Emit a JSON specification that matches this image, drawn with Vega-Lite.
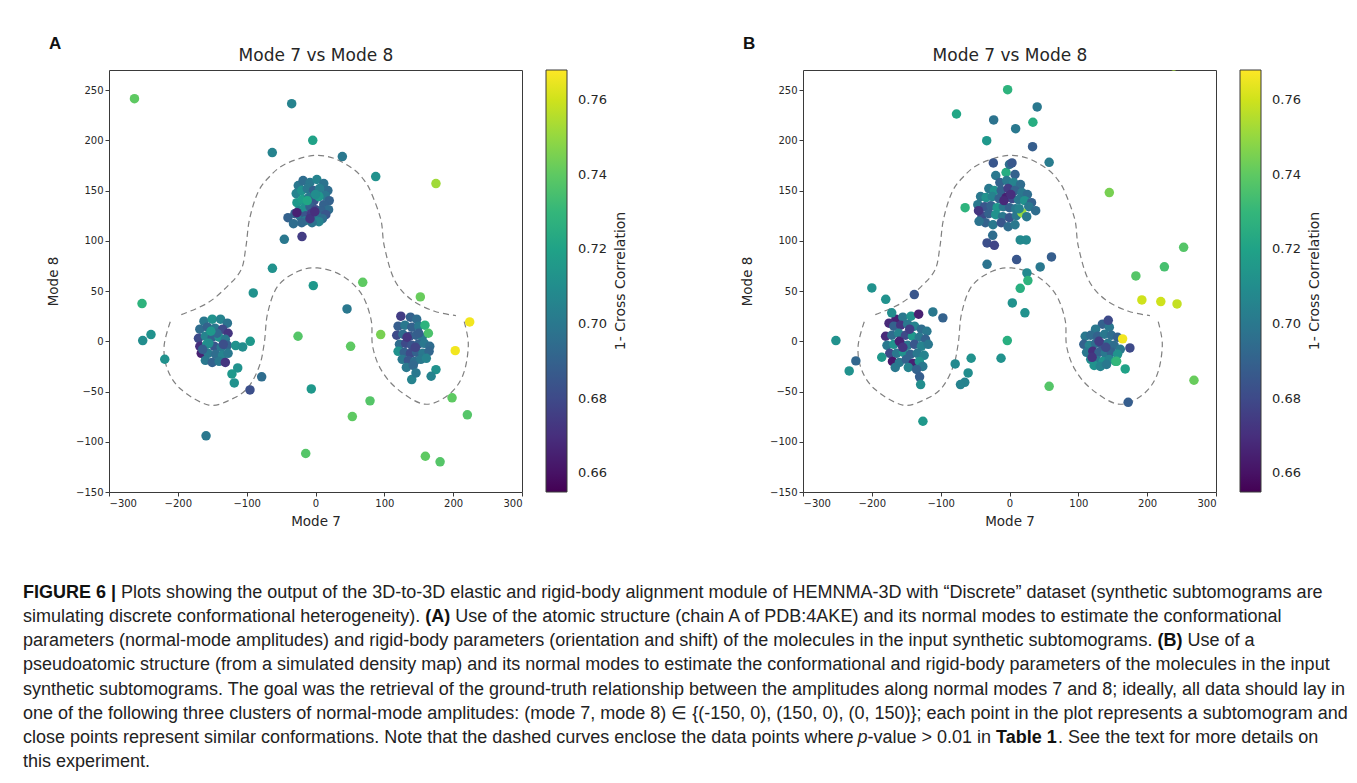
{
  "$schema": "https://vega.github.io/schema/vega-lite/v6.json",
  "background": "white",
  "padding": {"left": 22, "top": 34, "right": 6, "bottom": 4},
  "spacing": 53,
  "datasets": {
    "contour": [
      {"piece": "outer", "k": 1, "mode7": -195, "mode8": 26.5},
      {"piece": "outer", "k": 2, "mode7": -157, "mode8": 38},
      {"piece": "outer", "k": 3, "mode7": -128, "mode8": 54.7},
      {"piece": "outer", "k": 4, "mode7": -108, "mode8": 71.3},
      {"piece": "outer", "k": 5, "mode7": -101, "mode8": 94.5},
      {"piece": "outer", "k": 6, "mode7": -96, "mode8": 121},
      {"piece": "outer", "k": 7, "mode7": -84, "mode8": 147.7},
      {"piece": "outer", "k": 8, "mode7": -68, "mode8": 163},
      {"piece": "outer", "k": 9, "mode7": -45, "mode8": 176},
      {"piece": "outer", "k": 10, "mode7": -5, "mode8": 184.8},
      {"piece": "outer", "k": 11, "mode7": 27, "mode8": 182},
      {"piece": "outer", "k": 12, "mode7": 56, "mode8": 170.8},
      {"piece": "outer", "k": 13, "mode7": 71, "mode8": 160},
      {"piece": "outer", "k": 14, "mode7": 81, "mode8": 147.7},
      {"piece": "outer", "k": 15, "mode7": 95, "mode8": 121},
      {"piece": "outer", "k": 16, "mode7": 100, "mode8": 94.5},
      {"piece": "outer", "k": 17, "mode7": 114.5, "mode8": 61.4},
      {"piece": "outer", "k": 18, "mode7": 139, "mode8": 41.5},
      {"piece": "outer", "k": 19, "mode7": 173, "mode8": 29.9},
      {"piece": "outer", "k": 20, "mode7": 204, "mode8": 25.6},
      {"piece": "inner", "k": 1, "mode7": -211, "mode8": 19.5},
      {"piece": "inner", "k": 2, "mode7": -220, "mode8": -5},
      {"piece": "inner", "k": 3, "mode7": -215, "mode8": -28},
      {"piece": "inner", "k": 4, "mode7": -195.5, "mode8": -47.8},
      {"piece": "inner", "k": 5, "mode7": -155, "mode8": -63.5},
      {"piece": "inner", "k": 6, "mode7": -122.8, "mode8": -57.9},
      {"piece": "inner", "k": 7, "mode7": -98.5, "mode8": -46.4},
      {"piece": "inner", "k": 8, "mode7": -81.7, "mode8": -24.9},
      {"piece": "inner", "k": 9, "mode7": -74.4, "mode8": -1.6},
      {"piece": "inner", "k": 10, "mode7": -69.5, "mode8": 28},
      {"piece": "inner", "k": 11, "mode7": -55, "mode8": 54.7},
      {"piece": "inner", "k": 12, "mode7": -26, "mode8": 69.4},
      {"piece": "inner", "k": 13, "mode7": 3, "mode8": 73},
      {"piece": "inner", "k": 14, "mode7": 37, "mode8": 66},
      {"piece": "inner", "k": 15, "mode7": 66, "mode8": 48},
      {"piece": "inner", "k": 16, "mode7": 80.7, "mode8": 21.6},
      {"piece": "inner", "k": 17, "mode7": 83, "mode8": -5},
      {"piece": "inner", "k": 18, "mode7": 95, "mode8": -28},
      {"piece": "inner", "k": 19, "mode7": 119.5, "mode8": -47.8},
      {"piece": "inner", "k": 20, "mode7": 158, "mode8": -62.5},
      {"piece": "inner", "k": 21, "mode7": 192, "mode8": -54},
      {"piece": "inner", "k": 22, "mode7": 214, "mode8": -34},
      {"piece": "inner", "k": 23, "mode7": 222, "mode8": -4},
      {"piece": "inner", "k": 24, "mode7": 216, "mode8": 19.6}
    ],
    "pointsA": [
      {"mode7": -25, "mode8": 155, "cc": 0.700}, {"mode7": -18, "mode8": 160, "cc": 0.695}, {"mode7": -8, "mode8": 158, "cc": 0.700},
      {"mode7": 2, "mode8": 161, "cc": 0.705}, {"mode7": 12, "mode8": 157, "cc": 0.698}, {"mode7": 18, "mode8": 150, "cc": 0.695},
      {"mode7": -28, "mode8": 147, "cc": 0.705}, {"mode7": -20, "mode8": 150, "cc": 0.712}, {"mode7": -12, "mode8": 152, "cc": 0.700},
      {"mode7": -3, "mode8": 150, "cc": 0.690}, {"mode7": 6, "mode8": 152, "cc": 0.703}, {"mode7": 14, "mode8": 145, "cc": 0.700},
      {"mode7": 20, "mode8": 140, "cc": 0.690}, {"mode7": -27, "mode8": 138, "cc": 0.715}, {"mode7": -19, "mode8": 141, "cc": 0.718},
      {"mode7": -10, "mode8": 143, "cc": 0.700}, {"mode7": -2, "mode8": 140, "cc": 0.685}, {"mode7": 5, "mode8": 144, "cc": 0.715},
      {"mode7": 12, "mode8": 136, "cc": 0.690}, {"mode7": 19, "mode8": 131, "cc": 0.695}, {"mode7": -24, "mode8": 130, "cc": 0.705},
      {"mode7": -16, "mode8": 133, "cc": 0.712}, {"mode7": -8, "mode8": 134, "cc": 0.690}, {"mode7": 0, "mode8": 131, "cc": 0.680},
      {"mode7": 8, "mode8": 130, "cc": 0.690}, {"mode7": 15, "mode8": 126, "cc": 0.685}, {"mode7": -30, "mode8": 127, "cc": 0.690},
      {"mode7": -22, "mode8": 124, "cc": 0.700}, {"mode7": -14, "mode8": 125, "cc": 0.685}, {"mode7": -6, "mode8": 127, "cc": 0.675},
      {"mode7": 2, "mode8": 124, "cc": 0.700}, {"mode7": 10, "mode8": 122, "cc": 0.695}, {"mode7": -15, "mode8": 120, "cc": 0.700},
      {"mode7": 5, "mode8": 119, "cc": 0.705}, {"mode7": -5, "mode8": 118, "cc": 0.698}, {"mode7": -20, "mode8": 118, "cc": 0.693},
      {"mode7": -12, "mode8": 140, "cc": 0.722}, {"mode7": 0, "mode8": 146, "cc": 0.710}, {"mode7": -27, "mode8": 128, "cc": 0.665},
      {"mode7": -8, "mode8": 122, "cc": 0.672}, {"mode7": -1, "mode8": 129, "cc": 0.670}, {"mode7": -40, "mode8": 123, "cc": 0.690},
      {"mode7": -32, "mode8": 117, "cc": 0.695},
      {"mode7": -162, "mode8": 20, "cc": 0.700}, {"mode7": -150, "mode8": 22, "cc": 0.712}, {"mode7": -138, "mode8": 22, "cc": 0.705},
      {"mode7": -128, "mode8": 18, "cc": 0.698}, {"mode7": -168, "mode8": 12, "cc": 0.695}, {"mode7": -157, "mode8": 14, "cc": 0.690},
      {"mode7": -146, "mode8": 13, "cc": 0.700}, {"mode7": -135, "mode8": 12, "cc": 0.680}, {"mode7": -127, "mode8": 8, "cc": 0.672},
      {"mode7": -170, "mode8": 3, "cc": 0.680}, {"mode7": -160, "mode8": 5, "cc": 0.705}, {"mode7": -150, "mode8": 4, "cc": 0.690},
      {"mode7": -140, "mode8": 4, "cc": 0.712}, {"mode7": -131, "mode8": 2, "cc": 0.700}, {"mode7": -168, "mode8": -5, "cc": 0.670},
      {"mode7": -158, "mode8": -3, "cc": 0.715}, {"mode7": -147, "mode8": -5, "cc": 0.685}, {"mode7": -137, "mode8": -6, "cc": 0.700},
      {"mode7": -128, "mode8": -4, "cc": 0.690}, {"mode7": -166, "mode8": -12, "cc": 0.665}, {"mode7": -156, "mode8": -12, "cc": 0.700},
      {"mode7": -145, "mode8": -13, "cc": 0.695}, {"mode7": -135, "mode8": -14, "cc": 0.705}, {"mode7": -127, "mode8": -12, "cc": 0.700},
      {"mode7": -160, "mode8": -19, "cc": 0.700}, {"mode7": -150, "mode8": -21, "cc": 0.690}, {"mode7": -140, "mode8": -20, "cc": 0.700},
      {"mode7": -131, "mode8": -21, "cc": 0.672}, {"mode7": -155, "mode8": -2, "cc": 0.710}, {"mode7": -143, "mode8": 8, "cc": 0.693},
      {"mode7": -164, "mode8": -8, "cc": 0.688}, {"mode7": -134, "mode8": -3, "cc": 0.682}, {"mode7": -152, "mode8": 10, "cc": 0.715},
      {"mode7": -116, "mode8": -4.3, "cc": 0.712}, {"mode7": -105.8, "mode8": -5.6, "cc": 0.710}, {"mode7": -94.8, "mode8": 0, "cc": 0.715},
      {"mode7": -113, "mode8": -26.5, "cc": 0.712}, {"mode7": -121.4, "mode8": -32.5, "cc": 0.715}, {"mode7": -118, "mode8": -41.4, "cc": 0.712},
      {"mode7": 124, "mode8": 25, "cc": 0.675}, {"mode7": 138, "mode8": 24, "cc": 0.690}, {"mode7": 147, "mode8": 22, "cc": 0.695},
      {"mode7": 120, "mode8": 15, "cc": 0.688}, {"mode7": 130, "mode8": 16, "cc": 0.700}, {"mode7": 140, "mode8": 14, "cc": 0.690},
      {"mode7": 150, "mode8": 15, "cc": 0.700}, {"mode7": 118, "mode8": 6, "cc": 0.680}, {"mode7": 127, "mode8": 7, "cc": 0.695},
      {"mode7": 137, "mode8": 5, "cc": 0.685}, {"mode7": 146, "mode8": 6, "cc": 0.690}, {"mode7": 155, "mode8": 4, "cc": 0.700},
      {"mode7": 122, "mode8": -3, "cc": 0.695}, {"mode7": 131, "mode8": -2, "cc": 0.680}, {"mode7": 140, "mode8": -4, "cc": 0.685},
      {"mode7": 149, "mode8": -3, "cc": 0.690}, {"mode7": 158, "mode8": -2, "cc": 0.700}, {"mode7": 166, "mode8": -5, "cc": 0.695},
      {"mode7": 120, "mode8": -10, "cc": 0.712}, {"mode7": 129, "mode8": -11, "cc": 0.690}, {"mode7": 138, "mode8": -12, "cc": 0.680},
      {"mode7": 147, "mode8": -11, "cc": 0.690}, {"mode7": 156, "mode8": -12, "cc": 0.700}, {"mode7": 165, "mode8": -10, "cc": 0.692},
      {"mode7": 126, "mode8": -18, "cc": 0.700}, {"mode7": 135, "mode8": -19, "cc": 0.685}, {"mode7": 144, "mode8": -20, "cc": 0.695},
      {"mode7": 153, "mode8": -18, "cc": 0.700}, {"mode7": 161, "mode8": -17, "cc": 0.705}, {"mode7": 133, "mode8": 4, "cc": 0.672},
      {"mode7": 145, "mode8": -6, "cc": 0.678}, {"mode7": 150, "mode8": 8, "cc": 0.688}, {"mode7": 132, "mode8": -26, "cc": 0.700},
      {"mode7": 142, "mode8": -24, "cc": 0.693}, {"mode7": 159, "mode8": 16, "cc": 0.728}, {"mode7": 164, "mode8": 8, "cc": 0.736},
      {"mode7": 175, "mode8": -28.2, "cc": 0.712}, {"mode7": 168, "mode8": -34.8, "cc": 0.705}, {"mode7": 139.8, "mode8": -38.1, "cc": 0.705},
      {"mode7": 146, "mode8": -31.5, "cc": 0.700},
      {"mode7": -263, "mode8": 241.5, "cc": 0.740}, {"mode7": -34.6, "mode8": 236.5, "cc": 0.705}, {"mode7": -4, "mode8": 200, "cc": 0.720},
      {"mode7": -62.8, "mode8": 187.8, "cc": 0.705}, {"mode7": 39, "mode8": 183.8, "cc": 0.700}, {"mode7": 87.5, "mode8": 163.9, "cc": 0.712},
      {"mode7": 175, "mode8": 157, "cc": 0.752}, {"mode7": -45.3, "mode8": 101.5, "cc": 0.700}, {"mode7": -19.6, "mode8": 104.2, "cc": 0.675},
      {"mode7": -62.6, "mode8": 72.6, "cc": 0.712}, {"mode7": -3.2, "mode8": 55.4, "cc": 0.715}, {"mode7": 68.6, "mode8": 58.7, "cc": 0.740},
      {"mode7": -90.4, "mode8": 48.1, "cc": 0.712}, {"mode7": -252, "mode8": 37.5, "cc": 0.728}, {"mode7": 152.3, "mode8": 44.2, "cc": 0.742},
      {"mode7": 45.8, "mode8": 32.2, "cc": 0.700}, {"mode7": 224, "mode8": 19.3, "cc": 0.766}, {"mode7": -239, "mode8": 6.7, "cc": 0.712},
      {"mode7": -251, "mode8": 0.7, "cc": 0.710}, {"mode7": -25.4, "mode8": 5, "cc": 0.738}, {"mode7": 94.7, "mode8": 6.7, "cc": 0.745},
      {"mode7": 51, "mode8": -5, "cc": 0.740}, {"mode7": 203, "mode8": -9.3, "cc": 0.766}, {"mode7": -219, "mode8": -17.9, "cc": 0.712},
      {"mode7": -78.2, "mode8": -35.4, "cc": 0.695}, {"mode7": -95.2, "mode8": -48.4, "cc": 0.682}, {"mode7": -6.1, "mode8": -47.4, "cc": 0.715},
      {"mode7": 198.4, "mode8": -56.3, "cc": 0.740}, {"mode7": 79.2, "mode8": -59.3, "cc": 0.738}, {"mode7": 53.5, "mode8": -74.9, "cc": 0.740},
      {"mode7": 220.6, "mode8": -73.2, "cc": 0.738}, {"mode7": -159, "mode8": -94.1, "cc": 0.700}, {"mode7": -14.2, "mode8": -111.7, "cc": 0.738},
      {"mode7": 159.6, "mode8": -114.4, "cc": 0.740}, {"mode7": 181, "mode8": -120, "cc": 0.738}
    ],
    "pointsB": [
      {"mode7": -20, "mode8": 165, "cc": 0.700}, {"mode7": -5, "mode8": 168, "cc": 0.725}, {"mode7": 8, "mode8": 166, "cc": 0.690},
      {"mode7": 0, "mode8": 176, "cc": 0.695}, {"mode7": -14, "mode8": 158, "cc": 0.690}, {"mode7": -4, "mode8": 160, "cc": 0.700},
      {"mode7": 6, "mode8": 158, "cc": 0.705}, {"mode7": 16, "mode8": 156, "cc": 0.695}, {"mode7": -30, "mode8": 152, "cc": 0.700},
      {"mode7": -22, "mode8": 150, "cc": 0.712}, {"mode7": -12, "mode8": 150, "cc": 0.690}, {"mode7": -2, "mode8": 152, "cc": 0.675},
      {"mode7": 8, "mode8": 150, "cc": 0.690}, {"mode7": 18, "mode8": 148, "cc": 0.700}, {"mode7": 26, "mode8": 146, "cc": 0.695},
      {"mode7": -42, "mode8": 144, "cc": 0.700}, {"mode7": -34, "mode8": 143, "cc": 0.712}, {"mode7": -25, "mode8": 144, "cc": 0.705},
      {"mode7": -15, "mode8": 142, "cc": 0.690}, {"mode7": -5, "mode8": 143, "cc": 0.665}, {"mode7": 4, "mode8": 142, "cc": 0.680},
      {"mode7": 13, "mode8": 141, "cc": 0.700}, {"mode7": 22, "mode8": 140, "cc": 0.712}, {"mode7": 32, "mode8": 138, "cc": 0.690},
      {"mode7": -46, "mode8": 136, "cc": 0.700}, {"mode7": -36, "mode8": 134, "cc": 0.685}, {"mode7": -27, "mode8": 135, "cc": 0.690},
      {"mode7": -18, "mode8": 133, "cc": 0.715}, {"mode7": -9, "mode8": 134, "cc": 0.700}, {"mode7": 0, "mode8": 133, "cc": 0.690},
      {"mode7": 9, "mode8": 132, "cc": 0.700}, {"mode7": 28, "mode8": 134, "cc": 0.700}, {"mode7": 38, "mode8": 130, "cc": 0.695},
      {"mode7": -40, "mode8": 125, "cc": 0.680}, {"mode7": -30, "mode8": 127, "cc": 0.690}, {"mode7": -20, "mode8": 126, "cc": 0.712},
      {"mode7": -10, "mode8": 124, "cc": 0.700}, {"mode7": 0, "mode8": 123, "cc": 0.685}, {"mode7": 10, "mode8": 125, "cc": 0.700},
      {"mode7": 18, "mode8": 128, "cc": 0.750}, {"mode7": 25, "mode8": 124, "cc": 0.700}, {"mode7": -35, "mode8": 118, "cc": 0.690},
      {"mode7": -24, "mode8": 116, "cc": 0.700}, {"mode7": -12, "mode8": 118, "cc": 0.685}, {"mode7": -2, "mode8": 114, "cc": 0.695},
      {"mode7": 8, "mode8": 116, "cc": 0.700}, {"mode7": -45, "mode8": 130, "cc": 0.672}, {"mode7": -8, "mode8": 140, "cc": 0.668},
      {"mode7": 2, "mode8": 146, "cc": 0.670}, {"mode7": 14, "mode8": 132, "cc": 0.705},
      {"mode7": -165, "mode8": 22, "cc": 0.665}, {"mode7": -155, "mode8": 24, "cc": 0.700}, {"mode7": -143, "mode8": 25, "cc": 0.712},
      {"mode7": -132, "mode8": 27, "cc": 0.665}, {"mode7": -175, "mode8": 18, "cc": 0.668}, {"mode7": -168, "mode8": 15, "cc": 0.690},
      {"mode7": -158, "mode8": 16, "cc": 0.672}, {"mode7": -148, "mode8": 17, "cc": 0.700}, {"mode7": -138, "mode8": 15, "cc": 0.705},
      {"mode7": -128, "mode8": 12, "cc": 0.695}, {"mode7": -120, "mode8": 10, "cc": 0.700}, {"mode7": -180, "mode8": 5, "cc": 0.668},
      {"mode7": -171, "mode8": 6, "cc": 0.695}, {"mode7": -161, "mode8": 8, "cc": 0.705}, {"mode7": -151, "mode8": 6, "cc": 0.680},
      {"mode7": -141, "mode8": 5, "cc": 0.715}, {"mode7": -131, "mode8": 4, "cc": 0.700}, {"mode7": -122, "mode8": 2, "cc": 0.690},
      {"mode7": -178, "mode8": -4, "cc": 0.700}, {"mode7": -168, "mode8": -3, "cc": 0.712}, {"mode7": -158, "mode8": -2, "cc": 0.690},
      {"mode7": -148, "mode8": -4, "cc": 0.700}, {"mode7": -138, "mode8": -3, "cc": 0.685}, {"mode7": -128, "mode8": -5, "cc": 0.705},
      {"mode7": -118, "mode8": -3, "cc": 0.700}, {"mode7": -174, "mode8": -12, "cc": 0.680}, {"mode7": -164, "mode8": -12, "cc": 0.700},
      {"mode7": -154, "mode8": -11, "cc": 0.712}, {"mode7": -144, "mode8": -13, "cc": 0.690}, {"mode7": -134, "mode8": -12, "cc": 0.700},
      {"mode7": -124, "mode8": -14, "cc": 0.705}, {"mode7": -170, "mode8": -20, "cc": 0.662}, {"mode7": -160, "mode8": -21, "cc": 0.700},
      {"mode7": -150, "mode8": -18, "cc": 0.690}, {"mode7": -140, "mode8": -22, "cc": 0.665}, {"mode7": -131, "mode8": -20, "cc": 0.712},
      {"mode7": -126, "mode8": -25, "cc": 0.700}, {"mode7": -166, "mode8": -26, "cc": 0.700}, {"mode7": -147, "mode8": -26, "cc": 0.705},
      {"mode7": -135, "mode8": -28, "cc": 0.690}, {"mode7": -160, "mode8": 0, "cc": 0.665}, {"mode7": -145, "mode8": 12, "cc": 0.675},
      {"mode7": -155, "mode8": -6, "cc": 0.672},
      {"mode7": 135, "mode8": 17, "cc": 0.690}, {"mode7": 145, "mode8": 14, "cc": 0.700}, {"mode7": 125, "mode8": 12, "cc": 0.700},
      {"mode7": 110, "mode8": 5, "cc": 0.700}, {"mode7": 118, "mode8": 6, "cc": 0.695}, {"mode7": 128, "mode8": 5, "cc": 0.690},
      {"mode7": 138, "mode8": 7, "cc": 0.700}, {"mode7": 148, "mode8": 6, "cc": 0.695}, {"mode7": 157, "mode8": 4, "cc": 0.690},
      {"mode7": 108, "mode8": -3, "cc": 0.690}, {"mode7": 116, "mode8": -4, "cc": 0.705}, {"mode7": 125, "mode8": -2, "cc": 0.695},
      {"mode7": 134, "mode8": -3, "cc": 0.685}, {"mode7": 143, "mode8": -2, "cc": 0.700}, {"mode7": 152, "mode8": -4, "cc": 0.695},
      {"mode7": 161, "mode8": -8, "cc": 0.700}, {"mode7": 112, "mode8": -11, "cc": 0.700}, {"mode7": 121, "mode8": -10, "cc": 0.670},
      {"mode7": 130, "mode8": -11, "cc": 0.690}, {"mode7": 139, "mode8": -12, "cc": 0.700}, {"mode7": 148, "mode8": -11, "cc": 0.690},
      {"mode7": 157, "mode8": -13, "cc": 0.712}, {"mode7": 118, "mode8": -18, "cc": 0.710}, {"mode7": 127, "mode8": -19, "cc": 0.700},
      {"mode7": 136, "mode8": -20, "cc": 0.712}, {"mode7": 145, "mode8": -18, "cc": 0.705}, {"mode7": 154, "mode8": -20, "cc": 0.725},
      {"mode7": 123, "mode8": -24, "cc": 0.712}, {"mode7": 132, "mode8": -25, "cc": 0.705}, {"mode7": 141, "mode8": -23, "cc": 0.700},
      {"mode7": 130, "mode8": 0, "cc": 0.675}, {"mode7": 140, "mode8": -6, "cc": 0.680}, {"mode7": 120, "mode8": -16, "cc": 0.672},
      {"mode7": -2.7, "mode8": 250.4, "cc": 0.728}, {"mode7": 40.2, "mode8": 233.2, "cc": 0.700}, {"mode7": -77, "mode8": 226.2, "cc": 0.722},
      {"mode7": -23, "mode8": 220.3, "cc": 0.698}, {"mode7": 34, "mode8": 218, "cc": 0.725}, {"mode7": 8.9, "mode8": 211.6, "cc": 0.700},
      {"mode7": -33.1, "mode8": 199.7, "cc": 0.715}, {"mode7": 33.5, "mode8": 193.7, "cc": 0.688}, {"mode7": 57.6, "mode8": 178.1, "cc": 0.702},
      {"mode7": -23.5, "mode8": 177.5, "cc": 0.685}, {"mode7": 3.6, "mode8": 177.5, "cc": 0.686}, {"mode7": 145, "mode8": 148, "cc": 0.745},
      {"mode7": -64.5, "mode8": 133, "cc": 0.728}, {"mode7": -44.2, "mode8": 119.4, "cc": 0.698}, {"mode7": -24.4, "mode8": 105.5, "cc": 0.695},
      {"mode7": -32.6, "mode8": 97.9, "cc": 0.682}, {"mode7": -22, "mode8": 95.5, "cc": 0.678}, {"mode7": 15.6, "mode8": 100.9, "cc": 0.708},
      {"mode7": 24.3, "mode8": 100.9, "cc": 0.708}, {"mode7": 253, "mode8": 93.5, "cc": 0.738}, {"mode7": -32.6, "mode8": 76.6, "cc": 0.698},
      {"mode7": 10.3, "mode8": 81.3, "cc": 0.685}, {"mode7": 61, "mode8": 84, "cc": 0.688}, {"mode7": 44.6, "mode8": 74, "cc": 0.700},
      {"mode7": 225, "mode8": 74.1, "cc": 0.735}, {"mode7": 25.3, "mode8": 68, "cc": 0.708}, {"mode7": 26.7, "mode8": 60.4, "cc": 0.728},
      {"mode7": 183.6, "mode8": 65, "cc": 0.738}, {"mode7": 15.6, "mode8": 52.7, "cc": 0.726}, {"mode7": -200, "mode8": 53.1, "cc": 0.712},
      {"mode7": -179.8, "mode8": 41.8, "cc": 0.712}, {"mode7": -138.3, "mode8": 46.5, "cc": 0.685}, {"mode7": 192.3, "mode8": 41.2, "cc": 0.760},
      {"mode7": 219.8, "mode8": 39.5, "cc": 0.760}, {"mode7": 243.4, "mode8": 37.2, "cc": 0.758}, {"mode7": 4.1, "mode8": 38.2, "cc": 0.712},
      {"mode7": 22.4, "mode8": 28.3, "cc": 0.712}, {"mode7": -111.3, "mode8": 29.2, "cc": 0.700}, {"mode7": -96.8, "mode8": 23.3, "cc": 0.690},
      {"mode7": -171.1, "mode8": 28.3, "cc": 0.710}, {"mode7": -252.2, "mode8": 0.7, "cc": 0.712}, {"mode7": -3.2, "mode8": 0.7, "cc": 0.726},
      {"mode7": -223.2, "mode8": -19.5, "cc": 0.692}, {"mode7": -232.9, "mode8": -29.5, "cc": 0.712}, {"mode7": -185.6, "mode8": -15.9, "cc": 0.715},
      {"mode7": -78.9, "mode8": -22.5, "cc": 0.708}, {"mode7": -55.7, "mode8": -16.9, "cc": 0.712}, {"mode7": -60.1, "mode8": -31.5, "cc": 0.710},
      {"mode7": -65, "mode8": -40.8, "cc": 0.705}, {"mode7": -71.2, "mode8": -43.1, "cc": 0.705}, {"mode7": -12.3, "mode8": -16.9, "cc": 0.712},
      {"mode7": 57.6, "mode8": -44.8, "cc": 0.738}, {"mode7": 268, "mode8": -38.8, "cc": 0.742}, {"mode7": 172.4, "mode8": -60.7, "cc": 0.688},
      {"mode7": -125.8, "mode8": -79.6, "cc": 0.715}, {"mode7": 168.1, "mode8": -27.5, "cc": 0.720}, {"mode7": 143.5, "mode8": 20.9, "cc": 0.680},
      {"mode7": 164.3, "mode8": 2.4, "cc": 0.766}, {"mode7": 174.9, "mode8": -6.6, "cc": 0.680}, {"mode7": 155.6, "mode8": -19.9, "cc": 0.730},
      {"mode7": -130.6, "mode8": -35.4, "cc": 0.688}, {"mode7": -129.1, "mode8": -43.1, "cc": 0.710}, {"mode7": 238.6, "mode8": 274, "cc": 0.752}
    ],
    "caption": [
      {"line": 1, "run": "1a", "t": "FIGURE 6 |"},
      {"line": 1, "run": "1b", "t": "Plots showing the output of the 3D-to-3D elastic and rigid-body alignment module of HEMNMA-3D with “Discrete” dataset (synthetic subtomograms are"},
      {"line": 2, "run": "2a", "t": "simulating discrete conformational heterogeneity)."},
      {"line": 2, "run": "2b", "t": "(A)"},
      {"line": 2, "run": "2c", "t": "Use of the atomic structure (chain A of PDB:4AKE) and its normal modes to estimate the conformational"},
      {"line": 3, "run": "3a", "t": "parameters (normal-mode amplitudes) and rigid-body parameters (orientation and shift) of the molecules in the input synthetic subtomograms."},
      {"line": 3, "run": "3b", "t": "(B)"},
      {"line": 3, "run": "3c", "t": "Use of a"},
      {"line": 4, "run": "4a", "t": "pseudoatomic structure (from a simulated density map) and its normal modes to estimate the conformational and rigid-body parameters of the molecules in the input"},
      {"line": 5, "run": "5a", "t": "synthetic subtomograms. The goal was the retrieval of the ground-truth relationship between the amplitudes along normal modes 7 and 8; ideally, all data should lay in"},
      {"line": 6, "run": "6a", "t": "one of the following three clusters of normal-mode amplitudes: (mode 7, mode 8) ∈ {(-150, 0), (150, 0), (0, 150)}; each point in the plot represents a subtomogram and"},
      {"line": 7, "run": "7a", "t": "close points represent similar conformations. Note that the dashed curves enclose the data points where"},
      {"line": 7, "run": "7b", "t": "p"},
      {"line": 7, "run": "7c", "t": "-value > 0.01 in"},
      {"line": 7, "run": "7d", "t": "Table 1"},
      {"line": 7, "run": "7e", "t": ". See the text for more details on"},
      {"line": 8, "run": "8a", "t": "this experiment."}
    ]
  },
  "vconcat": [
    {
      "hconcat": [
        {
          "title": {"text": "A"},
          "width": 413,
          "height": 422,
          "layer": [
            {
              "data": {"name": "contour"},
              "mark": {"type": "line", "interpolate": "cardinal", "strokeDash": [6, 4], "color": "#808080", "strokeWidth": 1.2},
              "encoding": {
                "x": {"field": "mode7", "type": "quantitative", "scale": {"domain": [-300, 300], "nice": false, "zero": false},
                      "axis": {"orient": "top", "title": "Mode 7 vs Mode 8", "labels": false, "ticks": false, "domain": false, "titleFontSize": 17, "titlePadding": 6}},
                "y": {"field": "mode8", "type": "quantitative", "title": "Mode 8", "scale": {"domain": [-150, 270], "nice": false, "zero": false},
                      "axis": {"values": [-150, -100, -50, 0, 50, 100, 150, 200, 250]}},
                "detail": {"field": "piece"},
                "order": {"field": "k", "type": "quantitative"}
              }
            },
            {
              "data": {"name": "pointsA"},
              "mark": {"type": "circle", "size": 90, "opacity": 1, "clip": true},
              "encoding": {
                "x": {"field": "mode7", "type": "quantitative", "title": "Mode 7", "scale": {"domain": [-300, 300], "nice": false, "zero": false},
                      "axis": {"orient": "bottom", "values": [-300, -200, -100, 0, 100, 200, 300]}},
                "y": {"field": "mode8", "type": "quantitative", "title": "Mode 8", "scale": {"domain": [-150, 270], "nice": false, "zero": false},
                      "axis": {"values": [-150, -100, -50, 0, 50, 100, 150, 200, 250]}},
                "color": {"field": "cc", "type": "quantitative", "scale": {"scheme": "viridis", "domain": [0.655, 0.768]},
                          "legend": {"title": "1- Cross Correlation", "type": "gradient", "direction": "vertical", "values": [0.66, 0.68, 0.7, 0.72, 0.74, 0.76], "format": ".2f",
                                     "labelOffset": 11, "titlePadding": 7, "offset": 24,
                                     "encoding": {"title": {"angle": {"value": -90}, "baseline": {"value": "top"}}}}}
              }
            }
          ],
          "resolve": {"axis": {"x": "independent"}}
        },
        {
          "title": {"text": "B"},
          "width": 413,
          "height": 422,
          "layer": [
            {
              "data": {"name": "contour"},
              "mark": {"type": "line", "interpolate": "cardinal", "strokeDash": [6, 4], "color": "#808080", "strokeWidth": 1.2},
              "encoding": {
                "x": {"field": "mode7", "type": "quantitative", "scale": {"domain": [-300, 300], "nice": false, "zero": false},
                      "axis": {"orient": "top", "title": "Mode 7 vs Mode 8", "labels": false, "ticks": false, "domain": false, "titleFontSize": 17, "titlePadding": 6}},
                "y": {"field": "mode8", "type": "quantitative", "title": "Mode 8", "scale": {"domain": [-150, 270], "nice": false, "zero": false},
                      "axis": {"values": [-150, -100, -50, 0, 50, 100, 150, 200, 250]}},
                "detail": {"field": "piece"},
                "order": {"field": "k", "type": "quantitative"}
              }
            },
            {
              "data": {"name": "pointsB"},
              "mark": {"type": "circle", "size": 90, "opacity": 1, "clip": true},
              "encoding": {
                "x": {"field": "mode7", "type": "quantitative", "title": "Mode 7", "scale": {"domain": [-300, 300], "nice": false, "zero": false},
                      "axis": {"orient": "bottom", "values": [-300, -200, -100, 0, 100, 200, 300]}},
                "y": {"field": "mode8", "type": "quantitative", "title": "Mode 8", "scale": {"domain": [-150, 270], "nice": false, "zero": false},
                      "axis": {"values": [-150, -100, -50, 0, 50, 100, 150, 200, 250]}},
                "color": {"field": "cc", "type": "quantitative", "scale": {"scheme": "viridis", "domain": [0.655, 0.768]},
                          "legend": {"title": "1- Cross Correlation", "type": "gradient", "direction": "vertical", "values": [0.66, 0.68, 0.7, 0.72, 0.74, 0.76], "format": ".2f",
                                     "labelOffset": 11, "titlePadding": 7, "offset": 24,
                                     "encoding": {"title": {"angle": {"value": -90}, "baseline": {"value": "top"}}}}}
              }
            }
          ],
          "resolve": {"axis": {"x": "independent"}}
        }
      ],
      "spacing": 87,
      "resolve": {"scale": {"color": "independent"}, "legend": {"color": "independent"}}
    },
    {
      "data": {"name": "caption"},
      "width": 1240,
      "height": 193,
      "view": {"stroke": null},
      "encoding": {
        "x": {"value": 0},
        "y": {"field": "line", "type": "ordinal", "axis": null, "scale": {"padding": 0.5}},
        "text": {"field": "t"}
      },
      "layer": [
        {"transform": [{"filter": {"field": "run", "oneOf": ["2a", "3a", "4a", "5a", "6a", "7a", "8a"]}}],
         "mark": {"type": "text", "align": "left", "baseline": "middle", "font": "Liberation Sans", "fontSize": 18, "color": "#222", "dx": -86}},
        {"transform": [{"filter": {"field": "run", "equal": "1a"}}],
         "mark": {"type": "text", "align": "left", "baseline": "middle", "font": "Liberation Sans", "fontSize": 18, "fontWeight": "bold", "color": "#111", "dx": -86}},
        {"transform": [{"filter": {"field": "run", "equal": "1b"}}],
         "mark": {"type": "text", "align": "left", "baseline": "middle", "font": "Liberation Sans", "fontSize": 18, "color": "#222", "dx": 12.1}},
        {"transform": [{"filter": {"field": "run", "equal": "2b"}}],
         "mark": {"type": "text", "align": "left", "baseline": "middle", "font": "Liberation Sans", "fontSize": 18, "fontWeight": "bold", "color": "#111", "dx": 316.2}},
        {"transform": [{"filter": {"field": "run", "equal": "2c"}}],
         "mark": {"type": "text", "align": "left", "baseline": "middle", "font": "Liberation Sans", "fontSize": 18, "color": "#222", "dx": 346.2}},
        {"transform": [{"filter": {"field": "run", "equal": "3b"}}],
         "mark": {"type": "text", "align": "left", "baseline": "middle", "font": "Liberation Sans", "fontSize": 18, "fontWeight": "bold", "color": "#111", "dx": 1048.4}},
        {"transform": [{"filter": {"field": "run", "equal": "3c"}}],
         "mark": {"type": "text", "align": "left", "baseline": "middle", "font": "Liberation Sans", "fontSize": 18, "color": "#222", "dx": 1078.4}},
        {"transform": [{"filter": {"field": "run", "equal": "7b"}}],
         "mark": {"type": "text", "align": "left", "baseline": "middle", "font": "Liberation Sans", "fontSize": 18, "fontStyle": "italic", "color": "#222", "dx": 748.5}},
        {"transform": [{"filter": {"field": "run", "equal": "7c"}}],
         "mark": {"type": "text", "align": "left", "baseline": "middle", "font": "Liberation Sans", "fontSize": 18, "color": "#222", "dx": 758.5}},
        {"transform": [{"filter": {"field": "run", "equal": "7d"}}],
         "mark": {"type": "text", "align": "left", "baseline": "middle", "font": "Liberation Sans", "fontSize": 18, "fontWeight": "bold", "color": "#111", "dx": 887.1}},
        {"transform": [{"filter": {"field": "run", "equal": "7e"}}],
         "mark": {"type": "text", "align": "left", "baseline": "middle", "font": "Liberation Sans", "fontSize": 18, "color": "#222", "dx": 949.1}}
      ]
    }
  ],
  "config": {
    "view": {"stroke": "#3a3a3a", "strokeWidth": 1},
    "axis": {
      "labelFont": "DejaVu Sans", "labelFontSize": 10, "labelColor": "#262626",
      "titleFont": "DejaVu Sans", "titleFontSize": 13.5, "titleFontWeight": "normal", "titleColor": "#262626",
      "grid": false, "domain": false, "tickColor": "#3a3a3a", "tickSize": 4, "labelPadding": 2
    },
    "axisX": {"titlePadding": 6},
    "axisY": {"titlePadding": -37, "minExtent": 86},
    "legend": {
      "gradientLength": 422, "gradientThickness": 21, "gradientStrokeColor": "#3a3a3a", "gradientStrokeWidth": 1,
      "labelFont": "DejaVu Sans", "labelFontSize": 13, "labelColor": "#262626",
      "titleFont": "DejaVu Sans", "titleFontSize": 14, "titleFontWeight": "normal", "titleColor": "#262626",
      "titleOrient": "right", "titleAnchor": "middle", "padding": 0
    },
    "title": {"font": "Liberation Sans", "fontSize": 17, "fontWeight": "bold", "color": "#111", "anchor": "start", "frame": "bounds", "offset": -7, "dx": 26}
  }
}
